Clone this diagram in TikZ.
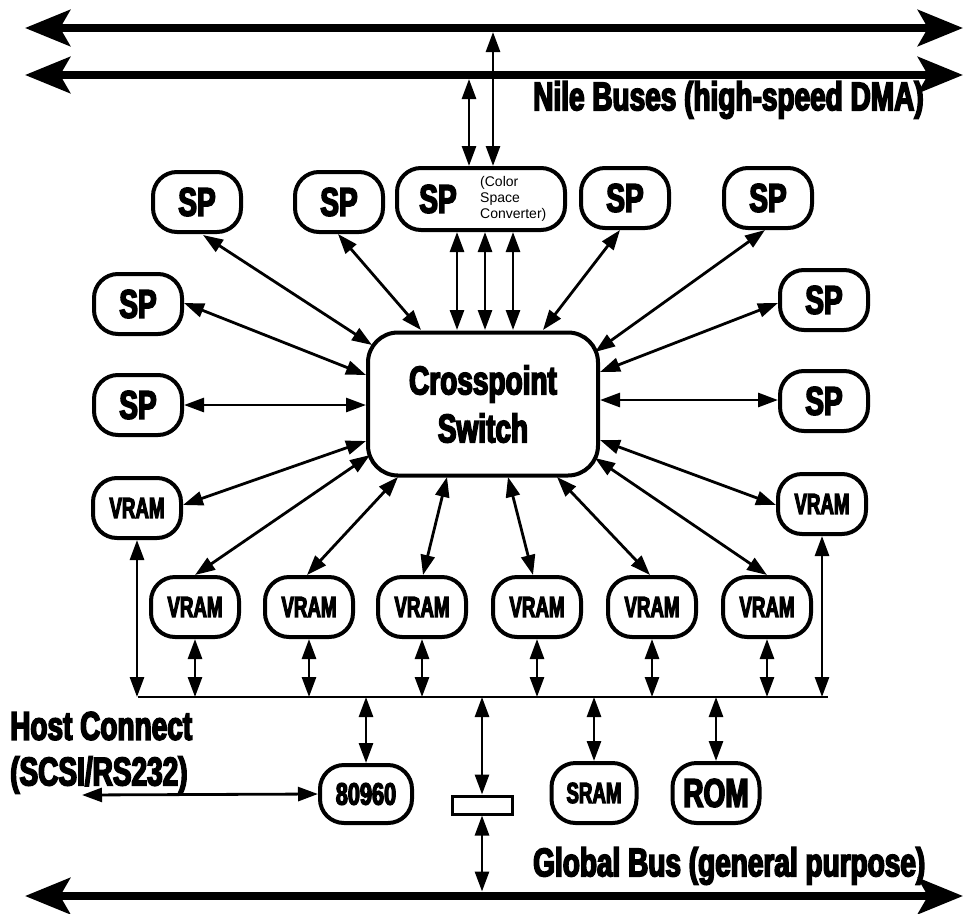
\documentclass[tikz,border=0pt]{standalone}
\usepackage{fontspec}
\newfontfamily\heavy{Liberation Sans}[UprightFont=* Bold, FakeStretch=0.70, FakeBold=4]
\newfontfamily\plainsans{Liberation Sans}
\usetikzlibrary{arrows.meta, calc}
\tikzset{
  box/.style={draw, line width=4pt, rounded corners=24pt, minimum width=88pt, minimum height=60pt, inner sep=0pt, font=\heavy\fontsize{40}{40}\selectfont},
  smallbox/.style={box, font=\heavy\fontsize{29}{29}\selectfont},
  link/.style={line width=2.8pt, {Triangle[length=20pt,width=14pt]}-{Triangle[length=20pt,width=14pt]}},
  bus/.style={line width=8pt, {Stealth[length=45pt,width=36pt,inset=10pt]}-{Stealth[length=45pt,width=36pt,inset=10pt]}},
  txt/.style={anchor=west, inner sep=0pt, font=\heavy\fontsize{40}{40}\selectfont},
}
\newcommand{\vr}{\scalebox{0.92}[1]{VRAM}}
\begin{document}
\begin{tikzpicture}[x=1pt, y=-1pt]
\useasboundingbox (0,0) rectangle (966,913);
% buses
\coordinate (b1L) at (25,28);  \coordinate (b1R) at (963,28);
\coordinate (b2L) at (25,75);  \coordinate (b2R) at (963,75);
\coordinate (gL) at (25,896);  \coordinate (gR) at (963,896);
\draw[bus] (b1L) -- (b1R);
\draw[bus] (b2L) -- (b2R);
\draw[bus] (gL) -- (gR);
\node[txt] (nile) at (533,100) {Nile Buses (high-speed DMA)};
\node[txt] (glob) at (533,866) {Global Bus (general purpose)};
\node[txt] (host1) at (10,726) {Host Connect};
\node[txt] (host2) at (10,775) {(SCSI/RS232)};

% switch
\node[box, minimum width=230pt, minimum height=143pt, rounded corners=30pt, align=center, font=\heavy\fontsize{40}{48}\selectfont] (sw) at (483,404) {Crosspoint\\Switch};

% SP nodes
\node[box] (sp1) at (197,202) {SP};
\node[box] (sp2) at (339,202) {SP};
\node[box, minimum width=168pt, minimum height=62pt] (csc) at (481,199) {};
\node[inner sep=0pt, font=\heavy\fontsize{40}{40}\selectfont] (cscsp) at (438,199) {SP};
\node[anchor=west, inner sep=0pt, align=left, font=\plainsans\fontsize{14}{16}\selectfont] (csctxt) at (480,199) {(Color\\Space\\Converter)};
\node[box] (sp3) at (625,198) {SP};
\node[box] (sp4) at (768,198) {SP};
\node[box] (sp5) at (138,304) {SP};
\node[box] (sp6) at (138,405) {SP};
\node[box] (sp7) at (824,300) {SP};
\node[box] (sp8) at (824,401) {SP};

% VRAM nodes
\node[smallbox] (vL) at (137,508) {\vr};
\node[smallbox] (vR) at (822,504) {\vr};
\node[smallbox] (v1) at (195,607) {\vr};
\node[smallbox] (v2) at (309,607) {\vr};
\node[smallbox] (v3) at (422,607) {\vr};
\node[smallbox] (v4) at (537,607) {\vr};
\node[smallbox] (v5) at (652,607) {\vr};
\node[smallbox] (v6) at (767,607) {\vr};

% bottom nodes
\node[smallbox, minimum width=92pt, minimum height=58pt, font=\heavy\fontsize{31}{31}\selectfont] (cpu) at (366,794) {80960\hspace{14pt}};
\node[smallbox, minimum width=85pt] (sram) at (594,793) {\scalebox{0.92}[1]{SRAM}};
\node[box, minimum width=87pt] (rom) at (716,793) {ROM};
\node[draw, line width=3pt, minimum width=60pt, minimum height=18pt, inner sep=0pt] (br) at (482,805) {};

% spokes
\draw[link] ([shift={(6,33)}]sp1.center) -- ([shift={(-111,-59)}]sw.center);
\draw[link] ([shift={(-1,32)}]sp2.center) -- ([shift={(-62,-74)}]sw.center);
\draw[link] ([shift={(-24,33)}]csc.center) -- ([shift={(-26,-74)}]sw.center);
\draw[link] ([shift={(4,33)}]csc.center) -- ([shift={(2,-74)}]sw.center);
\draw[link] ([shift={(32,33)}]csc.center) -- ([shift={(30,-74)}]sw.center);
\draw[link] ([shift={(-5,32)}]sp3.center) -- ([shift={(60,-74)}]sw.center);
\draw[link] ([shift={(-3,32)}]sp4.center) -- ([shift={(112,-52)}]sw.center);
\draw[link] ([shift={(46,-1)}]sp5.center) -- ([shift={(-117,-29)}]sw.center);
\draw[link] ([shift={(46,0)}]sp6.center) -- ([shift={(-117,1)}]sw.center);
\draw[link] ([shift={(-46,3)}]sp7.center) -- ([shift={(117,-32)}]sw.center);
\draw[link] ([shift={(-46,-1)}]sp8.center) -- ([shift={(117,-4)}]sw.center);
\draw[link] ([shift={(46,-3)}]vL.center) -- ([shift={(-117,37)}]sw.center);
\draw[link] ([shift={(0,-32)}]v1.center) -- ([shift={(-113,51)}]sw.center);
\draw[link] ([shift={(-2,-32)}]v2.center) -- ([shift={(-85,73)}]sw.center);
\draw[link] ([shift={(1,-32)}]v3.center) -- ([shift={(-36,73)}]sw.center);
\draw[link] ([shift={(-4,-32)}]v4.center) -- ([shift={(25,73)}]sw.center);
\draw[link] ([shift={(-2,-32)}]v5.center) -- ([shift={(74,73)}]sw.center);
\draw[link] ([shift={(0,-32)}]v6.center) -- ([shift={(112,54)}]sw.center);
\draw[link] ([shift={(-46,1)}]vR.center) -- ([shift={(117,36)}]sw.center);

% to Nile buses
\draw[link, shorten >=4pt] ([xshift=-12pt]csc.north) -- ([xshift=-12pt]csc.north |- b2L);
\draw[link, shorten >=4pt] ([xshift=12pt]csc.north) -- ([xshift=12pt]csc.north |- b1L);

% local bus
\coordinate (lbL) at (138,697);
\coordinate (lbR) at (828,697);
\draw[line width=2.2pt] (lbL) -- (lbR);
\draw[link] (vL.south) -- (vL.south |- lbL);
\draw[link] (vR.south) -- (vR.south |- lbL);
\foreach \n in {v1,v2,v3,v4,v5,v6}
  \draw[link] (\n.south) -- (\n.south |- lbL);
\draw[link] (cpu.north |- lbL) -- (cpu.north);
\draw[link] (sram.north |- lbL) -- (sram.north);
\draw[link] (rom.north |- lbL) -- (rom.north);
\draw[link] (br.north |- lbL) -- (br.north);
\draw[link, shorten >=4.5pt] (br.south) -- (br.south |- gL);

% host connect
\coordinate (hc) at (82,795);
\draw[link] (hc) -- (cpu.west);
\end{tikzpicture}
\end{document}
